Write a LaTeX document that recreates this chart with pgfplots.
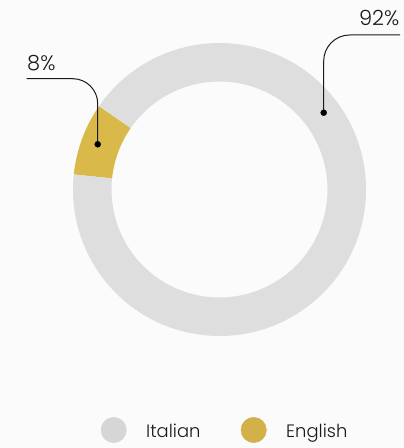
\documentclass[border=0pt]{standalone}
\usepackage{pgfplots}
\pgfplotsset{compat=1.18}
\usepackage{fontspec}
\setmainfont{Poppins}[UprightFont=* Light]
\definecolor{bg}{HTML}{FBFBFB}
\definecolor{ital}{HTML}{DEDEDE}
\definecolor{eng}{HTML}{D9B94A}
\definecolor{italleg}{HTML}{D6D6D6}
\definecolor{engleg}{HTML}{D4B04A}
\definecolor{callout}{HTML}{1A1A1A}
% data: shares in percent
\def\valItalian{92}
\def\valEnglish{8}
\begin{document}
\begin{tikzpicture}
\pgfmathsetmacro{\angStart}{145.3}
\pgfmathsetmacro{\angEng}{\angStart+3.6*\valEnglish}
\pgfmathsetmacro{\angIta}{\angEng+3.6*\valItalian}
\begin{axis}[
  scale only axis, width=404bp, height=448bp,
  xmin=0, xmax=404, ymin=0, ymax=448,
  hide axis, clip=false,
]
\fill[bg] (axis cs:0,0) rectangle (axis cs:404,448);
% donut
\def\cx{219.5}\def\cy{258.5}
\fill[eng] (axis cs:\cx,\cy) ++(\angStart:146.5bp) arc[start angle=\angStart, end angle=\angEng, radius=146.5bp]
   -- ++(\angEng:-38.5bp) arc[start angle=\angEng, end angle=\angStart, radius=108bp] -- cycle;
\fill[ital] (axis cs:\cx,\cy) ++(\angEng:146.5bp) arc[start angle=\angEng, end angle=\angIta, radius=146.5bp]
   -- ++(\angIta:-38.5bp) arc[start angle=\angIta, end angle=\angEng, radius=108bp] -- cycle;
% callouts
\draw[callout, line width=1bp, rounded corners=26bp] (axis cs:323.7,335.3) |- (axis cs:400,413);
\draw[callout, line width=1bp, rounded corners=25bp] (axis cs:97.7,303.7) |- (axis cs:26.7,369.3);
\addplot[only marks, color=black, mark=*, mark size=3bp] coordinates {(323.7,335.3) (97.7,303.7)};
\node[anchor=base east, inner sep=0, font=\fontsize{21}{24}\selectfont, text=black!90] at (axis cs:399.5,422) {92\%};
\node[anchor=base west, inner sep=0, font=\fontsize{21}{24}\selectfont, text=black!90] at (axis cs:27,377.3) {8\%};
% legend
\addplot[only marks, color=italleg, mark=*, mark size=12.7bp] coordinates {(113.7,18)};
\addplot[only marks, color=engleg, mark=*, mark size=12.7bp] coordinates {(253.7,18)};
\node[anchor=base west, inner sep=0, font=\fontsize{18}{21}\selectfont, text=black!90] at (axis cs:146,10.3) {Italian};
\node[anchor=base west, inner sep=0, font=\fontsize{18}{21}\selectfont, text=black!90] at (axis cs:286,10.3) {English};
\end{axis}
\end{tikzpicture}
\end{document}
